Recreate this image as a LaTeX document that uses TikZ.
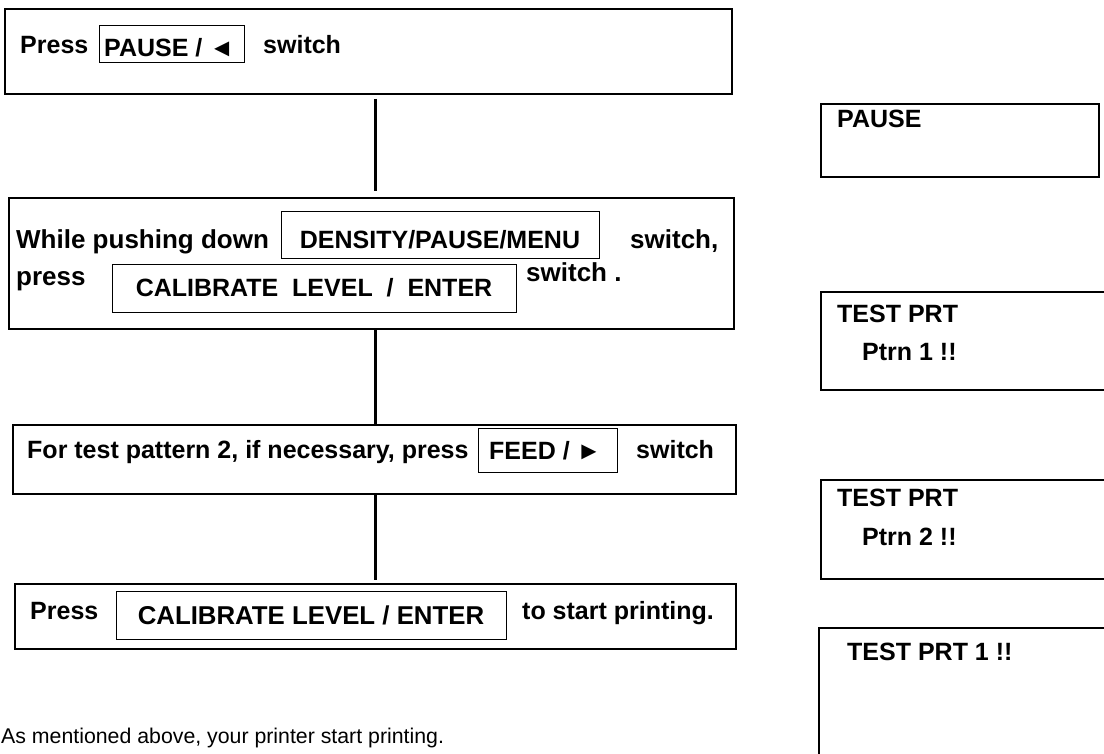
\documentclass[tikz,border=0pt]{standalone}
\usepackage{fontspec}
\setmainfont{Liberation Sans}
\begin{document}
\begin{tikzpicture}[x=1pt,y=-1pt,
  bigbox/.style={draw, line width=2pt, anchor=north west, inner sep=0pt},
  keybox/.style={draw, line width=1.4pt, anchor=north west, inner sep=0pt},
  lbl/.style={anchor=base west, inner sep=0pt, font=\fontsize{25}{30}\selectfont\bfseries},
  lblb/.style={anchor=base west, inner sep=0pt, font=\fontsize{26}{31}\selectfont\bfseries},
  rlbl/.style={anchor=base west, inner sep=0pt, font=\fontsize{25}{30}\selectfont\bfseries},
  conn/.style={line width=3pt},
]
\useasboundingbox (0,0) rectangle (1104,754);
\fill[white] (0,0) rectangle (1104,754);

% main flow boxes
\node[bigbox, minimum width=727pt, minimum height=85pt]  (b1) at (4,8) {};
\node[bigbox, minimum width=725pt, minimum height=131pt] (b2) at (8,197) {};
\node[bigbox, minimum width=723pt, minimum height=69pt]  (b3) at (12,424) {};
\node[bigbox, minimum width=721pt, minimum height=65pt]  (b4) at (14,583) {};

% key boxes
\node[keybox, minimum width=145pt, minimum height=37pt] (k1) at (99,25) {};
\node[keybox, minimum width=318pt, minimum height=47pt] (k2) at (281,211) {};
\node[keybox, minimum width=404pt, minimum height=48pt] (k3) at (112,264) {};
\node[keybox, minimum width=139pt, minimum height=44pt] (k4) at (478,428) {};
\node[keybox, minimum width=390pt, minimum height=48pt] (k5) at (116,591) {};

% box 1 texts
\node[lbl] (t1a) at (20,54) {Press};
\node[lbl] (t1b) at (104,57) {PAUSE / ◄};
\node[lbl] (t1c) at (263,54) {switch};

% box 2 texts
\node[lblb] (t2a) at (16,249) {While pushing down};
\node[lbl, anchor=base] (t2b) at (440,249) {DENSITY/PAUSE/MENU};
\node[lblb] (t2c) at (630,249) {switch,};
\node[lblb] (t2d) at (16,286) {press};
\node[lbl, anchor=base] (t2e) at (314,297) {CALIBRATE\ \ LEVEL\ \ /\ \ ENTER};
\node[lblb] (t2f) at (526,282) {switch .};

% box 3 texts
\node[lbl] (t3a) at (27,458) {For test pattern 2, if necessary, press};
\node[lbl] (t3b) at (489,459) {FEED / ►};
\node[lbl] (t3c) at (636,458) {switch};

% box 4 texts
\node[lbl] (t4a) at (30,619) {Press};
\node[lbl, anchor=base, font=\fontsize{25.8}{31}\selectfont\bfseries] (t4b) at (311,624) {CALIBRATE LEVEL / ENTER};
\node[lbl] (t4c) at (522,619) {to start printing.};

% connectors
\coordinate (cx) at (375,0);
\draw[conn, shorten <=4pt, shorten >=6pt] (b1.south -| cx) -- (b2.north -| cx);
\draw[conn] (b2.south -| cx) -- (b3.north -| cx);
\draw[conn, shorten >=3pt] (b3.south -| cx) -- (b4.north -| cx);

% display panels
\node[bigbox, minimum width=278pt, minimum height=73pt]  (d1) at (820,103) {};
\node[bigbox, minimum width=300pt, minimum height=98pt]  (d2) at (820,291) {};
\node[bigbox, minimum width=300pt, minimum height=99pt]  (d3) at (820,479) {};
\node[bigbox, minimum width=300pt, minimum height=140pt] (d4) at (818,627) {};

\node[rlbl] (p1) at (837,128) {PAUSE};
\node[rlbl] (p2a) at (837,323) {TEST PRT};
\node[rlbl] (p2b) at (862,360) {Ptrn 1 !!};
\node[rlbl] (p3a) at (837,506) {TEST PRT};
\node[rlbl] (p3b) at (862,545) {Ptrn 2 !!};
\node[rlbl] (p4) at (847,660) {TEST PRT 1 !!};

% closing sentence
\node[anchor=base west, inner sep=0pt, font=\fontsize{21.3}{26}\selectfont] (note) at (1,743) {As mentioned above, your printer start printing.};
\end{tikzpicture}
\end{document}
